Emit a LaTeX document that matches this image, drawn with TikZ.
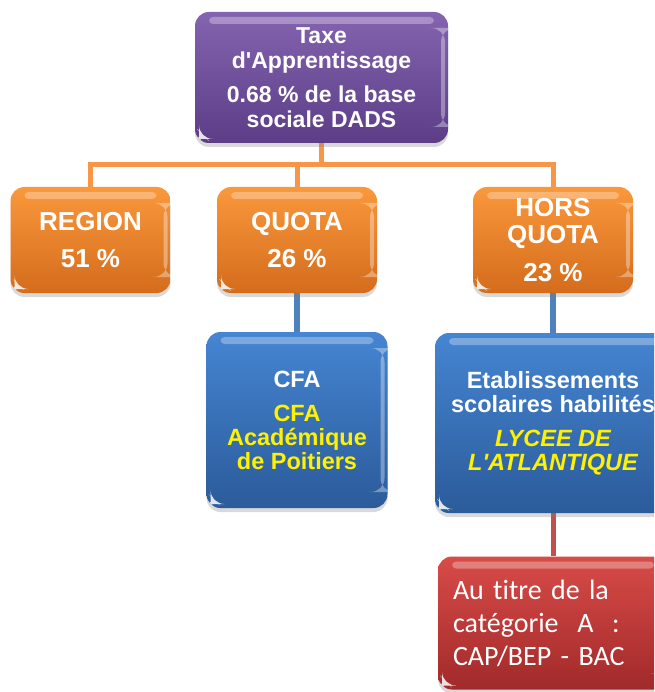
\documentclass[tikz,border=0pt]{standalone}
\usepackage{fontspec}
\setmainfont{Liberation Sans}
\newfontfamily\calibfont[Ligatures=NoCommon]{Carlito}
\usetikzlibrary{positioning,shadows,backgrounds}
\definecolor{purpleTop}{HTML}{8464B0}
\definecolor{purpleBot}{HTML}{5C3D86}
\definecolor{orangeTop}{HTML}{FA983C}
\definecolor{orangeBot}{HTML}{D46C1C}
\definecolor{blueTop}{HTML}{4585D2}
\definecolor{blueBot}{HTML}{2B5B9A}
\definecolor{redTop}{HTML}{D84B48}
\definecolor{redBot}{HTML}{A12A2A}
\definecolor{orangeLine}{HTML}{F79646}
\definecolor{blueLine}{HTML}{4F81BD}
\definecolor{redLine}{HTML}{C0504D}

\begin{document}
\begin{tikzpicture}[x=1pt,y=-1pt,on grid,
   box/.style={rounded corners=14pt,align=center,text=white,inner sep=0pt,
     drop shadow={shadow xshift=0pt,shadow yshift=-4pt,opacity=.3},
     path picture={
       \fill[white,opacity=.3,rounded corners=4pt]
         ([xshift=14pt,yshift=-5pt]path picture bounding box.north west) rectangle
         ([xshift=-14pt,yshift=-12pt]path picture bounding box.north east);
       \fill[white,opacity=.35]
         ([xshift=-7pt,yshift=-16pt]path picture bounding box.north east) rectangle
         ([xshift=-3pt,yshift=16pt]path picture bounding box.south east);
       \fill[white,opacity=.85]
         ([xshift=4pt,yshift=4pt]path picture bounding box.south west) -- ++(8pt,0pt) -- ++(-8pt,8pt) -- cycle;}},
   taxebox/.style={box,top color=purpleTop,bottom color=purpleBot,
     minimum width=253pt,minimum height=131pt,font=\fontsize{23}{25}\selectfont\bfseries},
   orangebox/.style={box,top color=orangeTop,bottom color=orangeBot,
     minimum width=160pt,minimum height=106pt,font=\fontsize{26}{27}\selectfont\bfseries},
   bluebox/.style={box,top color=blueTop,bottom color=blueBot,
     minimum height=176pt,font=\fontsize{23.5}{24}\selectfont\bfseries},
   redbox/.style={box,top color=redTop,bottom color=redBot,align=left,
     minimum width=230pt,minimum height=133pt,text width=200pt,inner xsep=15pt,
     font=\calibfont\fontsize{28}{33}\selectfont},
   orangeline/.style={draw=orangeLine,line width=5pt},
   blueline/.style={draw=blueLine,line width=6pt},
   redline/.style={draw=redLine,line width=5pt}]
   \clip (0,0) rectangle (654,692);
   \useasboundingbox (0,0) rectangle (654,692);
   \node[taxebox] (taxe) at (321.5,77.5) {Taxe\\d\textquotesingle Apprentissage\\[9pt]0.68 \% de la base\\sociale DADS};
   \node[orangebox] (quota) at (297,240) {QUOTA\\[10pt]26 \%};
   \node[orangebox] (region) [left=206.5pt of quota] {REGION\\[10pt]51 \%};
   \node[orangebox] (hors) [right=256pt of quota] {HORS\\QUOTA\\[11pt]23 \%};
   \node[bluebox,minimum width=181pt] (cfa) [below=180pt of quota]
     {CFA\\[10pt]\textcolor{yellow}{CFA}\\\textcolor{yellow}{Académique}\\\textcolor{yellow}{de Poitiers}};
   \node[bluebox,minimum width=236pt,minimum height=180pt] (etab) [below=183pt of hors]
     {Etablissements\\scolaires habilités\\[10pt]\textcolor{yellow}{\itshape LYCEE DE}\\\textcolor{yellow}{\itshape L\textquotesingle ATLANTIQUE}};
   \node[redbox] (cat) [below=200pt of etab] {Au titre de la\\catégorie\ \ A\ \ :\\CAP/BEP - BAC};
   \begin{scope}[on background layer]
    \coordinate (bus) at (322,165);
    \draw[orangeline] (taxe.south) -- (taxe.south |- bus);
    \draw[orangeline] (region.north) |- (bus) -| (hors.north);
    \draw[orangeline] (quota.north) -- (quota.north |- bus);
    \draw[blueline] (quota.south) -- (cfa.north);
    \draw[blueline] (hors.south) -- (etab.north);
    \draw[redline] (etab.south) -- (cat.north);
   \end{scope}
\end{tikzpicture}
\end{document}
